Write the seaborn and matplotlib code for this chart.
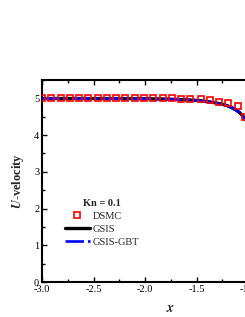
import numpy as np
import pandas as pd
import seaborn as sns
import matplotlib
matplotlib.use("Agg")
import matplotlib.pyplot as plt
from matplotlib.ticker import MultipleLocator

sns.set_theme(style="ticks")
plt.rcParams['font.family'] = ['Liberation Serif', 'DejaVu Serif']
plt.rcParams['mathtext.fontset'] = 'stix'
plt.rcParams['axes.unicode_minus'] = False

# DSMC data
dsmc_x = [-3.0, -2.91, -2.82, -2.73, -2.64, -2.55, -2.46, -2.37, -2.28, -2.19,
          -2.10, -2.01, -1.92, -1.83, -1.74, -1.65, -1.56, -1.46, -1.37, -1.28,
          -1.19, -1.10, -1.03]
dsmc_u = [5.0, 5.0, 5.0, 5.0, 5.0, 5.0, 5.0, 5.0, 5.0, 5.0,
          5.0, 5.0, 5.0, 5.0, 5.0, 4.995, 4.99, 4.98, 4.95, 4.91,
          4.88, 4.78, 4.49]

# GSIS curve
gsis_x = [-3.0, -2.8, -2.6, -2.4, -2.2, -2.0, -1.9, -1.8, -1.7, -1.6, -1.5,
          -1.43, -1.37, -1.31, -1.25, -1.2, -1.16, -1.12, -1.08, -1.05, -1.02,
          -1.0, -0.97]
gsis_u = [4.995, 4.995, 4.995, 4.994, 4.993, 4.99, 4.985, 4.98, 4.97, 4.96, 4.945,
          4.925, 4.90, 4.875, 4.84, 4.80, 4.75, 4.69, 4.61, 4.52, 4.40,
          4.28, 4.05]
# GSIS-GBT curve
gbt_x = gsis_x
gbt_u = gsis_u

fig = plt.figure(figsize=(2.45, 3.17), dpi=100)
ax = fig.add_axes([42/245, 1-282/317, 257.5/245, 202/317])

df_dsmc = pd.DataFrame({"x": dsmc_x, "u": dsmc_u})
df_gsis = pd.DataFrame({"x": gsis_x, "u": gsis_u})
df_gbt = pd.DataFrame({"x": gbt_x, "u": gbt_u})

sns.lineplot(data=df_gsis, x="x", y="u", ax=ax, color="black", lw=2.4,
             label="GSIS", zorder=2)
sns.lineplot(data=df_gbt, x="x", y="u", ax=ax, color="#0000ff", lw=1.9,
             label="GSIS-GBT", zorder=3)
ax.lines[-1].set_dashes([7, 1.5, 1.5, 1.5])
ax.plot(df_dsmc["x"], df_dsmc["u"], ls="none", marker="s", ms=4.6,
        mfc="none", mec="#ff0000", mew=1.2, label="DSMC", zorder=4)

ax.set_xlim(-3.0, -0.5)
ax.set_ylim(0, 5.5)
ax.xaxis.set_major_locator(MultipleLocator(0.5))
ax.xaxis.set_minor_locator(MultipleLocator(0.25))
ax.yaxis.set_major_locator(MultipleLocator(1))
ax.yaxis.set_minor_locator(MultipleLocator(0.5))
ax.xaxis.set_major_formatter(matplotlib.ticker.FormatStrFormatter('%.1f'))
ax.tick_params(which='both', direction='in', top=True, right=True,
               labelsize=7.5, width=1.0, pad=2, colors='black')
ax.tick_params(which='major', length=3.5)
ax.tick_params(which='minor', length=2)
for sp in ax.spines.values():
    sp.set_linewidth(1.5)
    sp.set_color('black')

ax.set_xlabel(r"$\mathbfit{x}$", fontsize=10, labelpad=6)
ax.set_ylabel(r"$\mathbfit{U}$-velocity", fontsize=9, fontweight='bold', labelpad=6)

h, l = ax.get_legend_handles_labels()
order = [l.index("DSMC"), l.index("GSIS"), l.index("GSIS-GBT")]
leg = ax.legend([h[i] for i in order], [l[i] for i in order],
                title="Kn = 0.1", loc="lower left",
                bbox_to_anchor=(0.072, 0.155), frameon=False, fontsize=7.5,
                handlelength=2.4, handletextpad=0.3, labelspacing=0.35,
                borderaxespad=0)
leg.get_title().set_fontweight('bold')
leg.get_title().set_fontsize(7.5)

fig.savefig("out.png", dpi=100)
